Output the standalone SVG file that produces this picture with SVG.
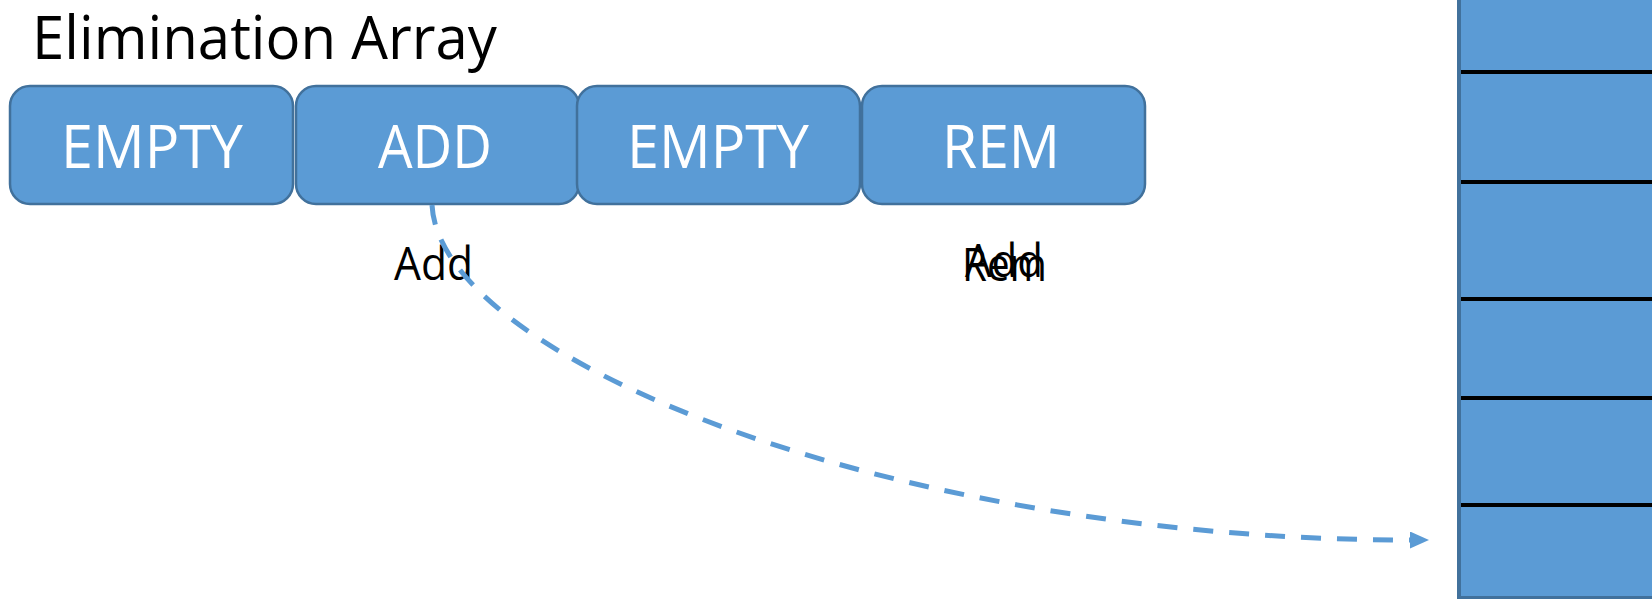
<svg xmlns="http://www.w3.org/2000/svg" width="1652" height="599" viewBox="0 0 1652 599">
<style>
.box{fill:#5B9BD5;stroke:#41719C;stroke-width:2.5}
.bt{font-family:"Open Sans","Liberation Sans",sans-serif;font-size:60px;fill:#FFFFFF}
.title{font-family:"Open Sans","Liberation Sans",sans-serif;font-size:60px;fill:#000000}
.lbl{font-family:"Open Sans","Liberation Sans",sans-serif;font-size:46px;fill:#000000}
.sep{stroke:#000000;stroke-width:4}
.conn{fill:none;stroke:#5B9BD5;stroke-width:5;stroke-dasharray:20 16}
</style>
<defs>
<marker id="arr" markerUnits="userSpaceOnUse" markerWidth="20" markerHeight="18" refX="0" refY="8.5" orient="auto" viewBox="0 0 20 18">
<path d="M0,0 L19,8.5 L0,17 Z" fill="#5B9BD5"/>
</marker>
</defs>
<rect width="1652" height="599" fill="#FFFFFF"/>
<text id="title" class="title" x="32" y="59" textLength="465" lengthAdjust="spacingAndGlyphs">Elimination Array</text>
<g id="stack">
<rect class="box" x="1459" y="-6" width="200" height="604" style="stroke-width:4"/>
<line class="sep" x1="1461" y1="72" x2="1652" y2="72"/>
<line class="sep" x1="1461" y1="182" x2="1652" y2="182"/>
<line class="sep" x1="1461" y1="299" x2="1652" y2="299"/>
<line class="sep" x1="1461" y1="398" x2="1652" y2="398"/>
<line class="sep" x1="1461" y1="505" x2="1652" y2="505"/>
</g>
<g id="slot0">
<rect class="box" x="10" y="86" width="283" height="118" rx="20"/>
<text class="bt" x="61" y="168" textLength="182" lengthAdjust="spacingAndGlyphs">EMPTY</text>
</g>
<g id="slot1">
<rect class="box" x="296" y="86" width="283" height="118" rx="20"/>
<text class="bt" x="378" y="168" textLength="114" lengthAdjust="spacingAndGlyphs">ADD</text>
</g>
<g id="slot2">
<rect class="box" x="577" y="86" width="283" height="118" rx="20"/>
<text class="bt" x="627" y="168" textLength="182" lengthAdjust="spacingAndGlyphs">EMPTY</text>
</g>
<g id="slot3">
<rect class="box" x="862" y="86" width="283" height="118" rx="20"/>
<text class="bt" x="942" y="168" textLength="118" lengthAdjust="spacingAndGlyphs">REM</text>
</g>
<g id="labels">
<text class="lbl" x="394" y="280" textLength="79" lengthAdjust="spacingAndGlyphs">Add</text>
<text class="lbl" x="962" y="281" textLength="85" lengthAdjust="spacingAndGlyphs">Rem</text>
<text class="lbl" x="965" y="277" textLength="78" lengthAdjust="spacingAndGlyphs">Add</text>
</g>
<g id="connectors">
<path class="conn" d="M432,205 C440,360 900,540 1410,540" marker-end="url(#arr)"/>
</g>
</svg>
